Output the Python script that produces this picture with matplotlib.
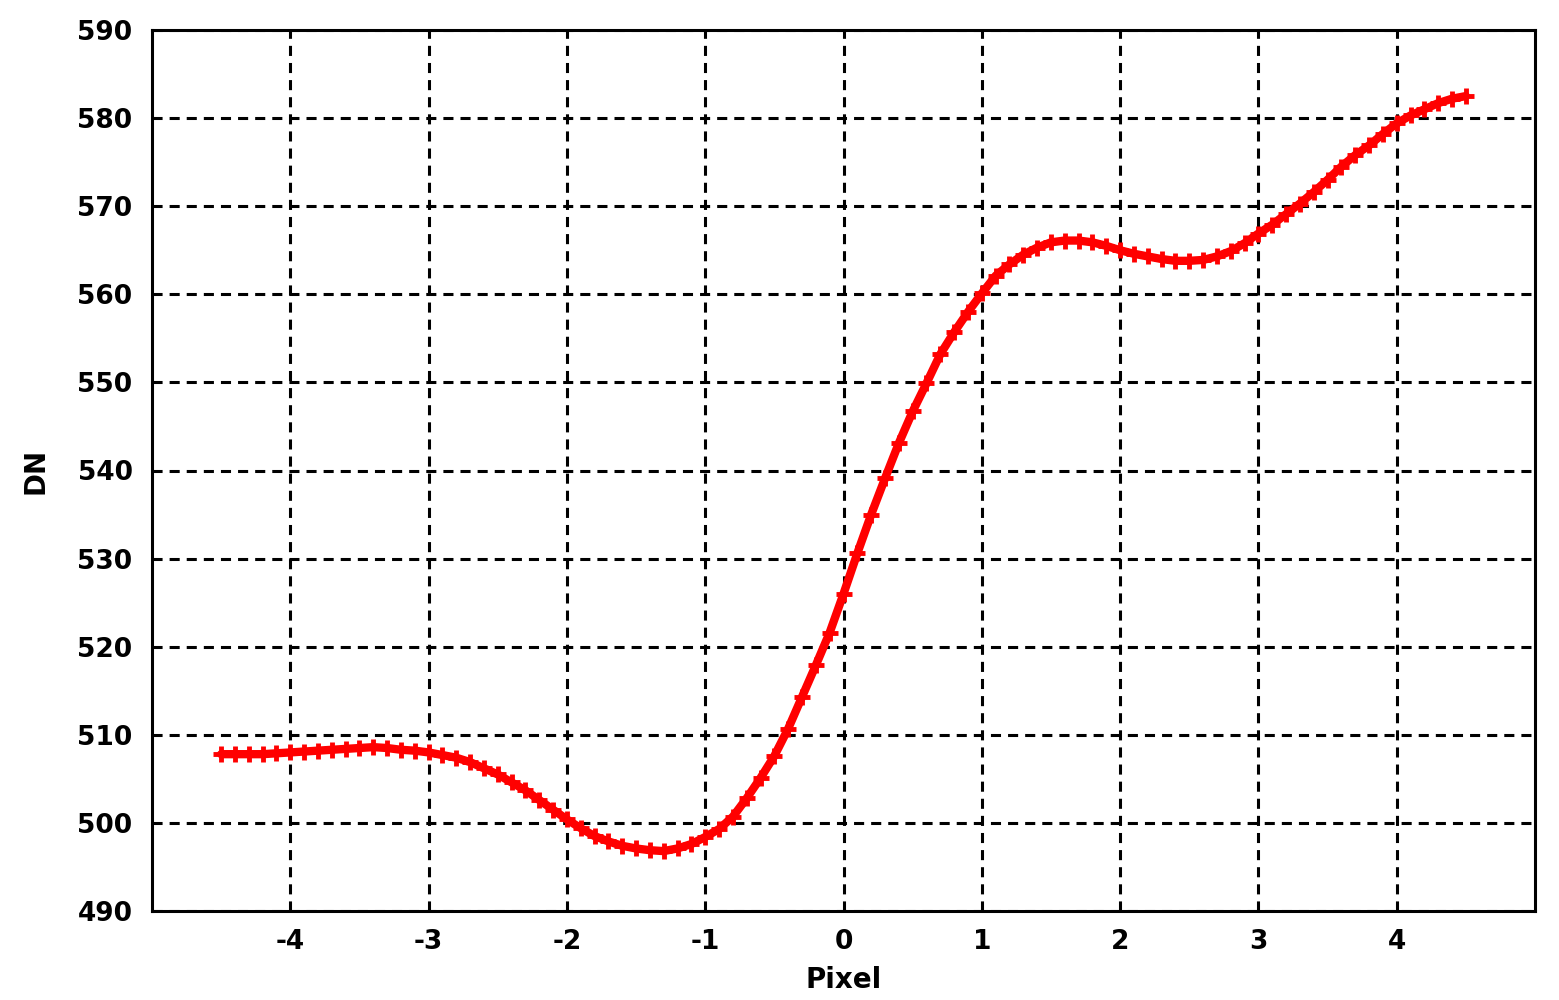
import numpy as np
import matplotlib
matplotlib.use("Agg")
import matplotlib.pyplot as plt

# Sample positions (pixel offsets) and measured DN values
pixel = np.round(np.arange(-4.5, 4.5001, 0.1), 2)
dn = [
    507.8, 507.8, 507.8, 507.8, 507.9, 508.0, 508.1, 508.2, 508.3, 508.4,
    508.5, 508.6, 508.5, 508.3, 508.2, 508.0, 507.7, 507.4, 506.9, 506.2,
    505.5, 504.6, 503.7, 502.6, 501.5, 500.4, 499.4, 498.5, 497.9, 497.4,
    497.1, 496.9, 496.8, 497.1, 497.6, 498.4, 499.3, 500.7, 502.8, 505.1,
    507.6, 510.7, 514.3, 517.9, 521.6, 526.0, 530.6, 535.0, 539.1, 543.1,
    546.7, 549.9, 553.2, 555.7, 558.0, 560.1, 562.1, 563.4, 564.5, 565.3,
    565.9, 566.1, 566.1, 565.9, 565.5, 565.0, 564.6, 564.3, 564.0, 563.8,
    563.8, 563.9, 564.3, 564.9, 565.8, 566.9, 567.9, 569.1, 570.3, 571.6,
    573.0, 574.5, 575.8, 576.9, 578.2, 579.4, 580.3, 581.0, 581.7, 582.2,
    582.5,
]

xticks = [-4, -3, -2, -1, 0, 1, 2, 3, 4]
yticks = [490, 500, 510, 520, 530, 540, 550, 560, 570, 580, 590]

plt.rcParams['font.family'] = ['DejaVu Sans']
fig = plt.figure(figsize=(15.59, 10.0), dpi=100)
fig.patch.set_facecolor('white')
ax = fig.add_axes([152 / 1559, 1 - 911 / 1000, (1535 - 152) / 1559, (911 - 30) / 1000])

ax.plot(pixel, dn, color='#ff0000', lw=6, marker='+', ms=11, mew=3.5,
        solid_capstyle='round', zorder=3)

ax.set_xlim(-5, 5)
ax.set_ylim(490, 590)
ax.set_xticks(xticks)
ax.set_yticks(yticks)
ax.set_xticklabels([str(v) for v in xticks])
ax.grid(True, color='black', linestyle=(0, (3.3, 2.3)), linewidth=2.2)
ax.set_axisbelow(True)
for s in ax.spines.values():
    s.set_linewidth(2.2)
    s.set_color('black')
ax.tick_params(axis='both', length=0, labelsize=19)
ax.tick_params(axis='x', pad=13)
ax.tick_params(axis='y', pad=14)
for lab in ax.get_xticklabels() + ax.get_yticklabels():
    lab.set_fontweight('bold')

ax.set_xlabel('Pixel', fontsize=20, fontweight='bold', labelpad=8)
ax.set_ylabel('DN', fontsize=20, fontweight='bold', labelpad=20)

fig.savefig('out.png', dpi=100, facecolor='white')
